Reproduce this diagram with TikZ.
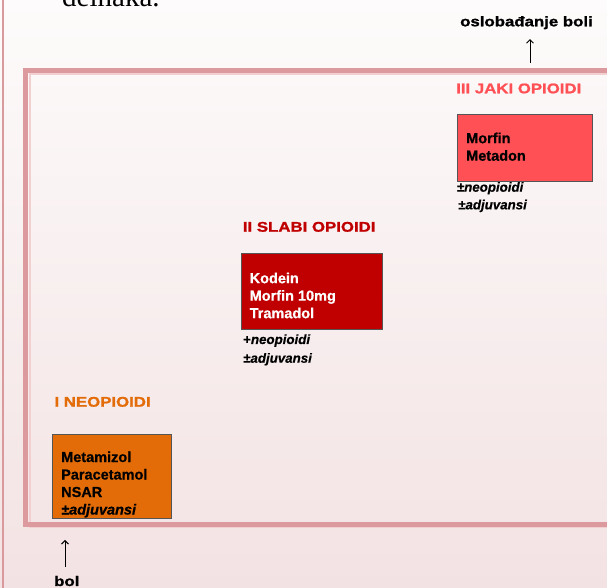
\documentclass[tikz,border=0pt]{standalone}
\usepackage{fontspec}
\setmainfont{Liberation Sans}
\newfontfamily\serifface{Liberation Serif}
\newfontfamily\wideface[FakeStretch=1.2,FakeBold=1.2]{Liberation Sans}
\newfontfamily\heavyface[FakeBold=0.6]{Liberation Sans}
\usetikzlibrary{arrows.meta}
\definecolor{bgtop}{HTML}{FDFBFB}
\definecolor{bgbot}{HTML}{F3E2E3}
\definecolor{framedark}{HTML}{DC9A9F}
\definecolor{framelight}{HTML}{F2CFD1}
\definecolor{leftline}{HTML}{D99A9E}
\definecolor{strongred}{HTML}{FF5055}
\definecolor{weakred}{HTML}{C00000}
\definecolor{nonorange}{HTML}{E36C09}
\definecolor{boxedge}{HTML}{555555}
\tikzset{
  stagebox/.style={draw=boxedge, line width=0.8pt},
  boxtext/.style={anchor=north west, inner sep=0pt, align=left, font=\heavyface\fontsize{14.5}{17.5}\selectfont\bfseries},
  headline/.style={anchor=base west, inner sep=0pt, font=\wideface\bfseries\fontsize{14}{16}\selectfont},
  subtext/.style={anchor=base west, inner sep=0pt, font=\heavyface\bfseries\itshape\fontsize{13.3}{15}\selectfont},
  arr/.style={-{Straight Barb[length=3.5pt,width=7pt]}, line width=0.9pt, black}
}
\begin{document}
\begin{tikzpicture}[x=1pt,y=1pt]
\useasboundingbox (0,0) rectangle (607,588);
% background
\shade[top color=bgtop, bottom color=bgbot] (0,0) rectangle (607,588);
% slide left edge
\draw[leftline, line width=2.5pt] (3,-5) -- (3,600);
% cut-off slide text
\node[anchor=base west, inner sep=0pt, font=\serifface\fontsize{29}{32}\selectfont] (cut) at (62,581) {deinaka.};
% frame
\draw[framelight, line width=2pt] (29.5,513.5) rectangle (640,60.5);
\draw[framedark, line width=5pt] (25.5,517.5) rectangle (640,63);
% stage III
\node[headline, text=strongred] (h3) at (456,494.7) {III JAKI OPIOIDI};
\draw[stagebox, fill=strongred] (457.5,473.7) rectangle (592.7,407);
\node[boxtext, text=black] (b3) at (466,455.5) {Morfin\\Metadon};
\node[subtext] (s3a) at (456.7,396.3) {±neopioidi};
\node[subtext] (s3b) at (458,378.7) {±adjuvansi};
% stage II
\node[headline, text=weakred] (h2) at (242.7,356.3) {II SLABI OPIOIDI};
\draw[stagebox, fill=weakred] (241,334.7) rectangle (382,259);
\node[boxtext, text=white] (b2) at (249.5,315.5) {Kodein\\Morfin 10mg\\Tramadol};
\node[subtext] (s2a) at (243,244) {{\upshape+}neopioidi};
\node[subtext] (s2b) at (243,225.3) {±adjuvansi};
% stage I
\node[headline, text=nonorange] (h1) at (54.3,181.3) {I NEOPIOIDI};
\draw[stagebox, fill=nonorange] (52.7,154) rectangle (171.7,69.7);
\node[boxtext, text=black] (b1) at (61,136.7) {Metamizol\\Paracetamol\\NSAR\\{\itshape ±adjuvansi}};
% pain arrows
\node[headline] (bol) at (54,2) {bol};
\coordinate (boltip) at (65,48);
\draw[arr, shorten <=9pt] (bol.north -| boltip) -- (boltip);
\node[headline] (osl) at (460,561.7) {oslobađanje boli};
\coordinate (reliefbase) at (530,525);
\draw[arr, shorten >=9.7pt] (reliefbase) -- (osl.south -| reliefbase);
\end{tikzpicture}
\end{document}
